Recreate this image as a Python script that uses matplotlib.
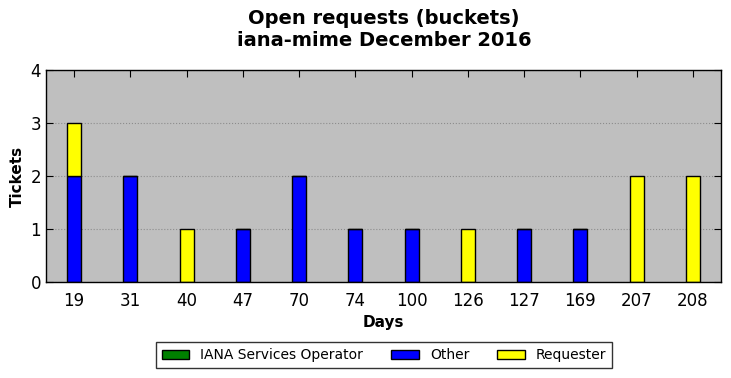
import numpy as np
import matplotlib
matplotlib.use("Agg")
import matplotlib.pyplot as plt

days = ["19", "31", "40", "47", "70", "74", "100", "126", "127", "169", "207", "208"]
iana = [0, 0, 0, 0, 0, 0, 0, 0, 0, 0, 0, 0]
other = [2, 2, 0, 1, 2, 1, 1, 0, 1, 1, 0, 0]
requester = [1, 0, 1, 0, 0, 0, 0, 1, 0, 0, 2, 2]

fig = plt.figure(figsize=(7.31, 3.78), dpi=100)
ax = fig.add_axes([46 / 731, 1 - 282 / 378, 675 / 731, 212 / 378])
ax.set_facecolor("#bfbfbf")

x = np.arange(len(days))
w = 0.25
ax.bar(x, iana, w, color="green", edgecolor="black", label="IANA Services Operator")
ax.bar(x, other, w, bottom=iana, color="blue", edgecolor="black", label="Other")
bottom2 = np.array(iana) + np.array(other)
ax.bar(x, requester, w, bottom=bottom2, color="yellow", edgecolor="black", label="Requester")

ax.set_xlim(-0.5, len(days) - 0.5)
ax.set_ylim(0, 4)
ax.set_yticks(range(5))
ax.set_xticks(x)
ax.set_xticklabels(days)
ax.tick_params(direction="in", top=True, right=True, labelsize=12, length=5)
ax.tick_params(axis="x", pad=7)
ax.yaxis.grid(True, linestyle=":", color="#8c8c8c", linewidth=0.8)
ax.set_axisbelow(True)
for s in ax.spines.values():
    s.set_linewidth(1)

ax.set_xlabel("Days", fontsize=11, fontweight="bold")
ax.set_ylabel("Tickets", fontsize=11, fontweight="bold")
fig.suptitle("Open requests (buckets)\niana-mime December 2016", fontsize=14,
             fontweight="bold", x=384 / 731, y=0.975)

ax.legend(loc="center", bbox_to_anchor=(384 / 731, 1 - 355 / 378), bbox_transform=fig.transFigure,
          ncol=3, fontsize=10, fancybox=False, edgecolor="black", handlelength=2,
          handleheight=0.6, columnspacing=2, borderpad=0.4)

fig.savefig("out.png", dpi=100)
